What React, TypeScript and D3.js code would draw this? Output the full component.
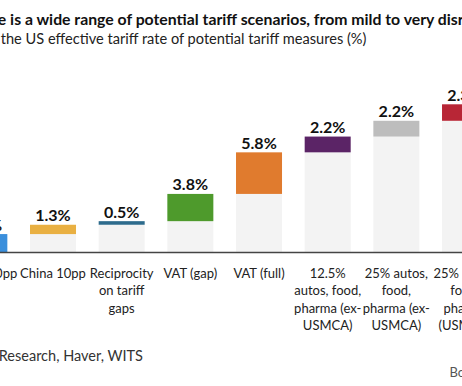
import React from "react";
import * as d3 from "d3";

const categories = ["China 10pp", "China 10pp (2nd)", "Reciprocity on tariff gaps", "VAT (gap)", "VAT (full)", "12.5% autos, food, pharma (ex-USMCA)", "25% autos, food, pharma (ex-USMCA)", "25% autos, food, pharma (USMCA)"];
const categoryLines = [
  ["China 10pp"],
  ["China 10pp"],
  ["Reciprocity", "on tariff", "gaps"],
  ["VAT (gap)"],
  ["VAT (full)"],
  ["12.5%", "autos, food,", "pharma (ex-", "USMCA)"],
  ["25% autos,", "food,", "pharma (ex-", "USMCA)"],
  ["25% autos,", "food,", "pharma", "(USMCA)"],
];
const values = [2.5, 1.3, 0.5, 3.8, 5.8, 2.2, 2.2, 2.3];
const colors = ["#3a8fdc", "#e9b042", "#2d6b8c", "#4e9a2c", "#e07b2e", "#5b2466", "#bdbdbd", "#b82636"];

const title = "There is a wide range of potential tariff scenarios, from mild to very disruptive";
const subtitle = "Increase in the US effective tariff rate of potential tariff measures (%)";
const source = "Source: Bloomberg Economics Research, Haver, WITS";
const credit = "Bo";

const W = 462;
const H = 386;
const FONT = "Lato, 'Open Sans', sans-serif";

export default function App() {
  const ends = d3.cumsum(values);
  const starts = values.map((v, i) => ends[i] - v);
  const total = ends[ends.length - 1];

  const x = d3
    .scaleBand<string>()
    .domain(categories)
    .range([-50, -50 + 68.67 * categories.length])
    .paddingInner(0.33)
    .paddingOuter(0.165);
  const y = d3.scaleLinear().domain([0, total]).range([252, 104.3]);
  const fmt = (v: number) => d3.format(".1f")(v) + "%";

  return (
    <svg
      width={W}
      height={H}
      style={{ position: "absolute", left: 0, top: 0, background: "#fff" }}
      fontFamily={FONT}
    >
      <text x={-34.5} y={25} fontSize={15.8} fontWeight={700} fill="#111">
        {title}
      </text>
      <text x={-71.5} y={43.5} fontSize={14.6} fill="#222">
        {subtitle}
      </text>

      {categories.map((c, i) => {
        const bx = x(c)!;
        const bw = x.bandwidth();
        return (
          <g key={c}>
            <rect x={bx} y={y(starts[i])} width={bw} height={y(0) - y(starts[i])} fill="#f3f3f3" />
            <rect x={bx} y={y(ends[i])} width={bw} height={y(starts[i]) - y(ends[i])} fill={colors[i]} />
            <text
              x={bx + bw / 2}
              y={y(ends[i]) - 3.5}
              textAnchor="middle"
              fontSize={16}
              fontWeight={700}
              fill="#111"
            >
              {fmt(values[i])}
            </text>
            <text x={bx + bw / 2} y={277.5} textAnchor="middle" fontSize={13} fill="#222">
              {categoryLines[i].map((line, j) => (
                <tspan key={j} x={bx + bw / 2} dy={j === 0 ? 0 : 17.6}>
                  {line}
                </tspan>
              ))}
            </text>
          </g>
        );
      })}

      <line x1={0} x2={W} y1={252.5} y2={252.5} stroke="#444" strokeWidth={1.6} />

      <text x={-197} y={361} fontSize={14.5} fill="#333">
        {source}
      </text>
      <text x={449.5} y={376.5} fontSize={13} fill="#555">
        {credit}
      </text>
    </svg>
  );
}
